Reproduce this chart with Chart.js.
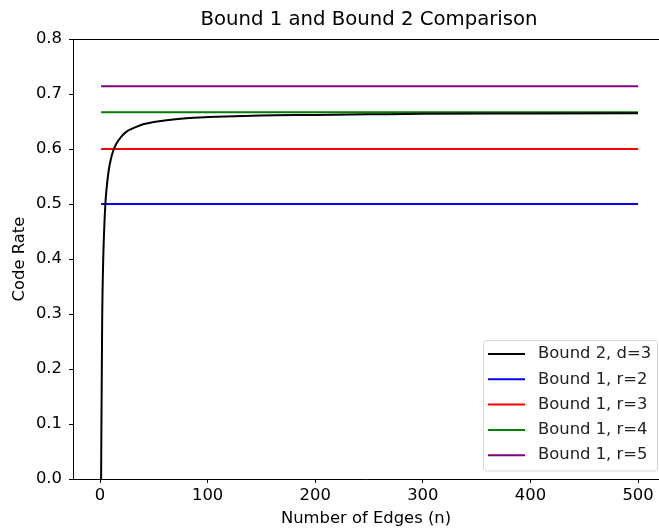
<!DOCTYPE html>
<html>
<head>
<meta charset="utf-8">
<script src="https://cdn.jsdelivr.net/npm/chart.js@4/dist/chart.umd.min.js"></script>
<style>
  html, body { margin: 0; padding: 0; background: #fff; overflow: hidden; }
  #wrap { width: 659px; height: 529px; position: relative; }
</style>
</head>
<body>
<div id="wrap"><canvas id="chart"></canvas></div>
<script>
// Bound 2 (d=3) curve
const edgeCounts = [1, 2, 3, 4, 5, 6, 8, 10, 12, 15, 20, 25, 30, 40, 50, 60, 80, 100, 150, 200, 250, 300, 400, 500];
const bound2Rates = [0, 0.286, 0.40, 0.46, 0.50, 0.526, 0.56, 0.581, 0.595, 0.609, 0.623, 0.632, 0.637, 0.645, 0.649, 0.652, 0.656, 0.658, 0.661, 0.662, 0.663, 0.664, 0.6645, 0.665];

// Bound 1 constant rates, one per r
const bound1Labels = ['Bound 1, r=2', 'Bound 1, r=3', 'Bound 1, r=4', 'Bound 1, r=5'];
const bound1Rates = [0.5, 0.6, 0.667, 0.714];
const bound1Span = [1, 500];

const lineColors = ['#000000', '#0000ff', '#ff0000', '#008000', '#800080'];
const xTicks = [0, 100, 200, 300, 400, 500];

const chartTitle = 'Bound 1 and Bound 2 Comparison';
const font = 'DejaVu Sans';
const textSize = 16.4;

// Build datasets
const datasets = [{
  label: 'Bound 2, d=3',
  data: edgeCounts.map((n, i) => ({ x: n, y: bound2Rates[i] })),
  borderColor: lineColors[0],
  cubicInterpolationMode: 'monotone'
}];
bound1Labels.forEach((label, i) => {
  datasets.push({
    label: label,
    data: bound1Span.map(n => ({ x: n, y: bound1Rates[i] })),
    borderColor: lineColors[i + 1]
  });
});
datasets.forEach(ds => {
  ds.borderWidth = 2;
  ds.pointRadius = 0;
  ds.fill = false;
});

// Top spine (the right one is cut off in the original picture) and the title,
// centred over the full axes box, which runs past the right edge
const framePlugin = {
  id: 'frame',
  afterDatasetsDraw(chart) {
    const { ctx, chartArea: a } = chart;
    ctx.save();
    ctx.strokeStyle = '#000';
    ctx.lineWidth = 1;
    ctx.beginPath();
    ctx.moveTo(a.left, a.top + 0.5);
    ctx.lineTo(chart.width, a.top + 0.5);
    ctx.stroke();
    ctx.font = (textSize * 1.2) + 'px "' + font + '"';
    ctx.fillStyle = '#000';
    ctx.textAlign = 'center';
    ctx.textBaseline = 'middle';
    ctx.fillText(chartTitle, 369, 20);
    ctx.restore();
  }
};

// Legend box inside the plot, lower right
const legendPlugin = {
  id: 'boxLegend',
  afterDraw(chart) {
    const { ctx } = chart;
    const items = chart.data.datasets;
    const x0 = 483, y0 = 340, w = 174, rowH = 25.3;
    const h = items.length * rowH + 4;
    ctx.save();
    ctx.beginPath();
    ctx.roundRect(x0 + 0.5, y0 + 0.5, w, h, 3);
    ctx.fillStyle = 'rgba(255,255,255,0.8)';
    ctx.fill();
    ctx.strokeStyle = '#d6d6d6';
    ctx.lineWidth = 1;
    ctx.stroke();
    ctx.font = textSize + 'px "' + font + '"';
    ctx.textBaseline = 'middle';
    items.forEach((ds, i) => {
      const cy = y0 + 14 + i * rowH;
      ctx.beginPath();
      ctx.moveTo(488, cy);
      ctx.lineTo(525, cy);
      ctx.strokeStyle = ds.borderColor;
      ctx.lineWidth = 2;
      ctx.stroke();
      ctx.fillStyle = '#222';
      ctx.fillText(ds.label, 538, cy);
    });
    ctx.restore();
  }
};

new Chart(document.getElementById('chart'), {
  type: 'line',
  data: { datasets: datasets },
  options: {
    responsive: true,
    maintainAspectRatio: false,
    animation: false,
    layout: { padding: { right: 0, bottom: 0, left: 0, top: 39 } },
    plugins: {
      legend: { display: false },
      tooltip: { enabled: false },
      title: { display: false }
    },
    scales: {
      x: {
        type: 'linear',
        min: -25.1,
        max: 519.5,
        afterBuildTicks: scale => { scale.ticks = xTicks.map(v => ({ value: v })); },
        afterFit: scale => { scale.height = 50; scale.paddingRight = 0; },
        grid: { display: true, drawOnChartArea: false, drawTicks: true, tickLength: 4, color: '#000' },
        border: { display: true, color: '#000' },
        ticks: { color: '#000', padding: 3, font: { family: font, size: textSize }, maxRotation: 0 },
        title: {
          display: true,
          text: 'Number of Edges (n)',
          color: '#000',
          font: { family: font, size: textSize },
          padding: { top: 0, bottom: 0 }
        }
      },
      y: {
        min: 0,
        max: 0.8,
        afterFit: scale => { scale.width = 73; },
        grid: { display: true, drawOnChartArea: false, drawTicks: true, tickLength: 4, color: '#000' },
        border: { display: true, color: '#000' },
        ticks: {
          stepSize: 0.1,
          color: '#000',
          padding: 7,
          font: { family: font, size: textSize },
          callback: v => v.toFixed(1)
        },
        title: {
          display: true,
          text: 'Code Rate',
          color: '#000',
          font: { family: font, size: textSize },
          padding: { top: 10, bottom: 0 }
        }
      }
    }
  },
  plugins: [framePlugin, legendPlugin]
});
</script>
</body>
</html>
